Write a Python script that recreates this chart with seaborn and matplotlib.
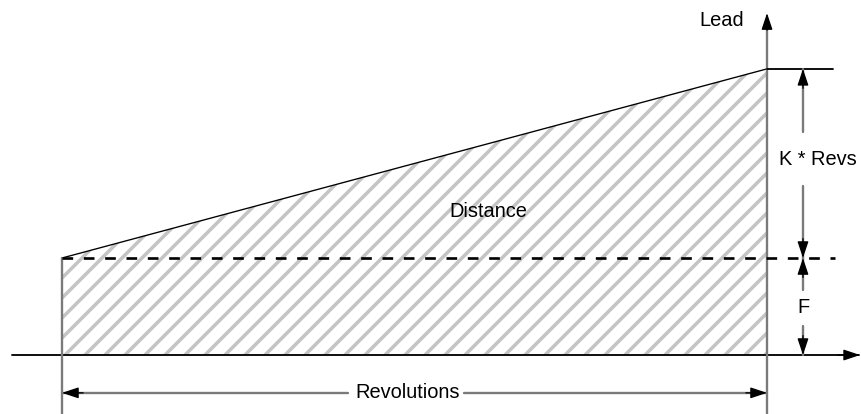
import matplotlib
matplotlib.use("Agg")
import matplotlib.pyplot as plt
import seaborn as sns
import pandas as pd

# ---- data ----
revolutions = [0.0, 10.0]          # start / end revolution
lead = [2.0, 5.9]                  # lead at start (F) and at end (F + K*Revs)
labels = {"lead": "Lead", "area": "Distance", "krevs": "K * Revs",
          "f": "F", "revs": "Revolutions"}

F = lead[0]
R0, R1 = revolutions
L1 = lead[1]

sns.set_theme(style="white")
plt.rcParams["font.family"] = ["Liberation Sans", "DejaVu Sans"]
plt.rcParams["text.color"] = "black"
plt.rcParams["hatch.linewidth"] = 2.1
plt.rcParams["hatch.color"] = "#c4c4c4"

DPI = 120
fig = plt.figure(figsize=(861 / DPI, 414 / DPI), dpi=DPI)
ax = fig.add_axes([0, 0, 1, 1])
ax.set_xlim(-0.879, 11.333)
ax.set_ylim(-1.216, 7.32)
ax.axis("off")

df = pd.DataFrame({"rev": revolutions, "lead": lead})

# hatched area
ax.fill_between(df["rev"], 0, df["lead"], facecolor="white", edgecolor="#c4c4c4",
                hatch="//", linewidth=0, zorder=1)
# top edge
sns.lineplot(data=df, x="rev", y="lead", color="black", linewidth=0.8, ax=ax, zorder=3)

gray = "#7a7a7a"
FS = 12
span = R1 - R0
def head(tip, frm):
    ax.annotate("", xy=tip, xytext=frm,
                arrowprops=dict(arrowstyle="-|>,head_length=0.6,head_width=0.2",
                                color="black", lw=0.8, mutation_scale=14,
                                shrinkA=0, shrinkB=0), zorder=5)

# x axis
ax.plot([R0 - 0.709, R1 + 1.3], [0, 0], color="black", lw=1.1, zorder=4)
head((R1 + 1.32, 0), (R1 + 1.0, 0))
# lead axis (right vertical)
ax.plot([R1, R1], [-1.3, L1 + 1.0], color=gray, lw=1.4, zorder=4)
head((R1, L1 + 1.15), (R1, L1 + 0.8))
ax.text(R1 - 0.33, L1 + 1.0, labels["lead"], ha="right", va="center", fontsize=FS, color="black")
# left vertical
ax.plot([R0, R0], [-1.3, F], color=gray, lw=1.4, zorder=4)

# dashed line at F
ax.plot([R0, R1 + 0.96], [F, F], color="black", lw=1.6, ls=(0, (4, 4)), zorder=4)
# top tick
ax.plot([R1, R1 + 0.94], [L1, L1], color="black", lw=1.1, zorder=4)

# K * Revs dimension
dx = R1 + 0.51
kmid = (L1 + F) / 2 + 0.09
ax.plot([dx, dx], [L1, kmid + 0.55], color=gray, lw=1.4, zorder=4)
ax.plot([dx, dx], [kmid - 0.55, F], color=gray, lw=1.4, zorder=4)
head((dx, L1), (dx, L1 - 0.4))
head((dx, F), (dx, F + 0.4))
ax.text(dx + 0.21, kmid, labels["krevs"], ha="center", va="center", fontsize=FS, color="black")

# F dimension
fmid = F / 2 - 0.03
ax.plot([dx, dx], [F, fmid + 0.37], color=gray, lw=1.4, zorder=4)
ax.plot([dx, dx], [fmid - 0.37, 0], color=gray, lw=1.4, zorder=4)
head((dx, F), (dx, F - 0.4))
head((dx, 0), (dx, 0.4))
ax.text(dx, fmid, labels["f"], ha="center", va="center", fontsize=FS, color="black")

# Revolutions dimension
ry = -0.78
rmid = (R0 + R1) / 2 - 0.1
ax.plot([R0, rmid - 0.85], [ry, ry], color=gray, lw=1.4, zorder=4)
ax.plot([rmid + 0.8, R1], [ry, ry], color=gray, lw=1.4, zorder=4)
head((R0, ry), (R0 + 0.3, ry))
head((R1, ry), (R1 - 0.3, ry))
ax.text(rmid, ry, labels["revs"], ha="center", va="center", fontsize=FS, color="black")

# Distance label
ax.text(R0 + 0.605 * span, 2.95, labels["area"], ha="center", va="center", fontsize=FS, color="black")

fig.savefig("out.png", dpi=DPI)
